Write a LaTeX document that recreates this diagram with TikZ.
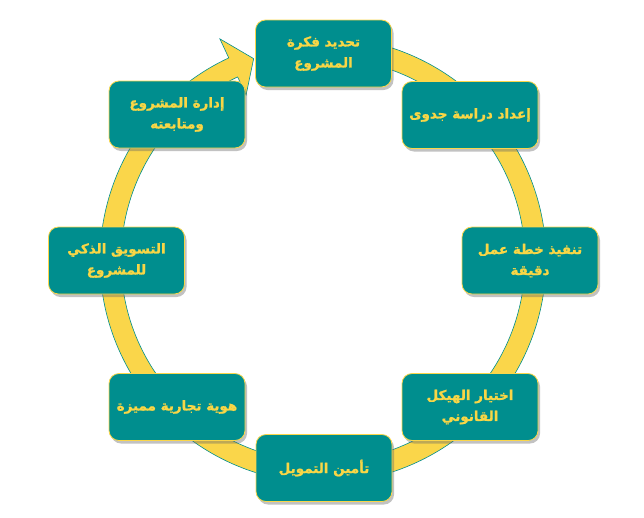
\documentclass[tikz,border=0pt]{standalone}
\usepackage{fontspec}
\usetikzlibrary{shadows}
\TeXXeTstate=1
\newfontfamily\arabicfont[Script=Arabic, FakeBold=1.2]{DejaVu Sans}
\newcommand{\ar}[1]{{\arabicfont\bfseries\beginR #1\endR}}
\definecolor{tealbox}{HTML}{008E8E}
\definecolor{ringyellow}{HTML}{FAD64A}
\definecolor{txtyellow}{HTML}{F8D646}
\tikzset{
  stepbox/.style={draw=ringyellow, line width=0.8pt, fill=tealbox, rounded corners=10pt,
    minimum width=136pt, minimum height=67pt, align=center, text=txtyellow,
    font=\fontsize{13.5}{21}\selectfont,
    drop shadow={shadow xshift=2pt, shadow yshift=-3pt, opacity=0.4, fill=black!60}},
  ring/.style={fill=ringyellow, draw=tealbox, line width=0.6pt}
}
\begin{document}
\begin{tikzpicture}[x=1pt,y=-1pt]
\useasboundingbox (0,0) rectangle (644,517);
% ring with arrowhead, centred at (323,260)
\begin{scope}[shift={(323,260)}, yscale=-1]
\path[ring]
  (85:202) arc[start angle=85, end angle=-245, radius=202]
  -- (115:182) -- (109:213) -- (115:244) -- (115:223)
  arc[start angle=115, end angle=445, radius=223] -- cycle;
\end{scope}
% boxes
\node[stepbox] (b1) at (323.5,53.5) {\ar{تحديد فكرة}\\\ar{المشروع}};
\node[stepbox] (b2) at (470,115) {\ar{إعداد دراسة جدوى}};
\node[stepbox] (b3) at (530,260.5) {\ar{تنفيذ خطة عمل}\\\ar{دقيقة}};
\node[stepbox] (b4) at (470,407) {\ar{اختيار الهيكل}\\\ar{القانوني}};
\node[stepbox] (b5) at (324,468) {\ar{تأمين التمويل}};
\node[stepbox] (b6) at (177,407) {\ar{هوية تجارية مميزة}};
\node[stepbox] (b7) at (116.5,260.5) {\ar{التسويق الذكي}\\\ar{للمشروع}};
\node[stepbox] (b8) at (177,114.5) {\ar{إدارة المشروع}\\\ar{ومتابعته}};
\end{tikzpicture}
\end{document}
